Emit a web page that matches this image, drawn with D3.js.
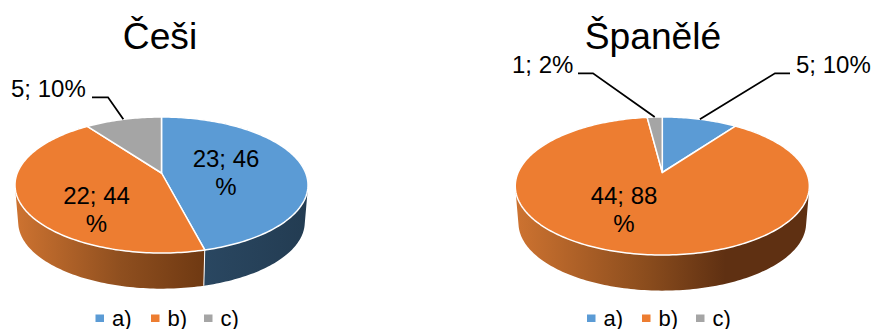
<!DOCTYPE html>
<html>
<head>
<meta charset="utf-8">
<script src="https://cdn.jsdelivr.net/npm/d3@7"></script>
<style>
html,body{margin:0;padding:0;background:#fff}
svg{display:block}
text{font-family:"Liberation Sans",Arial,sans-serif;fill:#000}
</style>
</head>
<body>
<svg id="chart" width="872" height="329"></svg>
<script>
// Survey answers for the two groups
const categories = ["a)", "b)", "c)"];
const cesiValues = [23, 22, 5];
const spaneleValues = [5, 44, 1];
const percentLabelsCesi = ["46", "44", "10"];
const percentLabelsSpanele = ["10", "88", "2"];
const colors = ["#5b9bd5", "#ed7d31", "#a5a5a5"];

// Shading of the pie rim, per category, from left to right
const wallStops = [
  [[0, "#2a4761"], [1, "#233c52"]],
  [[0, "#cc7230"], [0.55, "#8f4f1f"], [1, "#6f3912"]],
  [[0, "#636363"], [1, "#636363"]]
];
const wallStopsWide = [
  [[0, "#264259"], [1, "#233c52"]],
  [[0, "#cc7230"], [0.45, "#8a4c1d"], [0.72, "#5f3012"], [1, "#5f3012"]],
  [[0, "#636363"], [1, "#636363"]]
];

const svg = d3.select("#chart");
const defs = svg.append("defs");

function drawPie(o) {
  const slices = d3.pie().sort(null)(o.values);

  // Tilted disc: projects a point on the unit circle to the page
  const project = (theta, r, scale, dy) => {
    const u = Math.sin(theta) * r, v = -Math.cos(theta) * r;
    const d = 1 - o.persp * v;
    return [o.cx + scale * o.kx * u / d, o.apexY + dy + scale * o.ky * v / d];
  };
  const rim = (a, b, scale, dy) => {
    const n = Math.max(2, Math.ceil((b - a) / 0.02));
    return d3.range(n + 1).map(i => project(a + (b - a) * i / n, 1, scale, dy));
  };
  const line = d3.line();
  const g = svg.append("g");

  // Rim walls first, the top face covers their far side. Each wall is a run of
  // small quads with the same winding, so their union also fills the silhouette.
  slices.forEach((s, i) => {
    const id = o.id + "-wall-" + i;
    const grad = defs.append("linearGradient").attr("id", id)
      .attr("gradientUnits", "userSpaceOnUse")
      .attr("x1", o.wallX[i][0]).attr("x2", o.wallX[i][1]).attr("y1", 0).attr("y2", 0);
    o.stops[i].forEach(st => grad.append("stop").attr("offset", st[0]).attr("stop-color", st[1]));
    const top = rim(s.startAngle, s.endAngle, 1, 0);
    const bottom = rim(s.startAngle, s.endAngle, o.depthScale, o.depth);
    const d = d3.pairs(d3.range(top.length)).map(([a, b]) => {
      const quad = [top[a], top[b], bottom[b], bottom[a]];
      if (d3.polygonArea(quad) < 0) quad.reverse();
      return line(quad) + "Z";
    }).join("");
    g.append("path").attr("d", d).attr("fill", `url(#${id})`).attr("fill-rule", "nonzero");
  });

  // Seams between the walls on the near side
  slices.forEach(s => {
    if (Math.cos(s.startAngle) < 0.1) {
      g.append("path")
        .attr("d", line([project(s.startAngle, 1, 1, 0), project(s.startAngle, 1, o.depthScale, o.depth)]))
        .attr("stroke", "#fff").attr("stroke-width", 1).attr("fill", "none");
    }
  });

  // Top face
  slices.forEach((s, i) => {
    const pts = [[o.cx, o.apexY]].concat(rim(s.startAngle, s.endAngle, 1, 0));
    g.append("path").attr("d", line(pts) + "Z")
      .attr("fill", colors[i]).attr("stroke", "#fff")
      .attr("stroke-width", 1.5).attr("stroke-linejoin", "round");
  });

  // Title
  g.append("text").attr("x", o.titleX).attr("y", 49)
    .attr("text-anchor", "middle").attr("font-size", 37.2).text(o.title);

  // Value labels
  slices.forEach((s, i) => {
    const lab = o.labels[i];
    const first = `${o.values[i]}; ${o.percents[i]}`;
    if (lab.wrap) {
      g.append("text").attr("x", lab.x).attr("y", lab.y).attr("text-anchor", "middle")
        .attr("font-size", 24).text(first);
      g.append("text").attr("x", lab.x).attr("y", lab.y + 28).attr("text-anchor", "middle")
        .attr("font-size", 24).text("%");
    } else {
      g.append("text").attr("x", lab.x).attr("y", lab.y).attr("text-anchor", lab.anchor)
        .attr("font-size", 24).text(first + "%");
      const mid = (s.startAngle + s.endAngle) / 2;
      g.append("path")
        .attr("d", line([[lab.lineX, lab.lineY], [lab.elbowX, lab.lineY], project(mid, 1, 1, 0)]))
        .attr("fill", "none").attr("stroke", "#000").attr("stroke-width", 1.8);
    }
  });

  // Legend
  categories.forEach((c, i) => {
    g.append("rect").attr("x", o.legendX[i]).attr("y", 314.5)
      .attr("width", 8.5).attr("height", 7.5).attr("fill", colors[i]);
    g.append("text").attr("x", o.legendX[i] + 16.5).attr("y", 325.5)
      .attr("font-size", 22).text(c);
  });
}

drawPie({
  id: "cesi", title: "Češi", titleX: 160,
  values: cesiValues, percents: percentLabelsCesi,
  cx: 161.5, apexY: 173, kx: 144.2, ky: 65.9, persp: 0.1765,
  depth: 37.4, depthScale: 0.978,
  wallX: [[204, 307], [18, 204], [0, 1]], stops: wallStops,
  labels: [
    { wrap: true, x: 226, y: 166.5 },
    { wrap: true, x: 96.5, y: 203.5 },
    { wrap: false, x: 11, y: 96.5, anchor: "start", lineX: 92, elbowX: 108, lineY: 97.3 }
  ],
  legendX: [95.5, 151, 204]
});

drawPie({
  id: "spanele", title: "Španělé", titleX: 653,
  values: spaneleValues, percents: percentLabelsSpanele,
  cx: 662.3, apexY: 172.5, kx: 144.2, ky: 66.4, persp: 0.1956,
  depth: 37.4, depthScale: 0.978,
  wallX: [[0, 1], [518, 806], [0, 1]], stops: wallStopsWide,
  labels: [
    { wrap: false, x: 796, y: 73, anchor: "start", lineX: 790, elbowX: 775, lineY: 73.3 },
    { wrap: true, x: 624, y: 203.5 },
    { wrap: false, x: 512, y: 73, anchor: "start", lineX: 578, elbowX: 593, lineY: 73.3 }
  ],
  legendX: [587, 642, 696]
});
</script>
</body>
</html>
